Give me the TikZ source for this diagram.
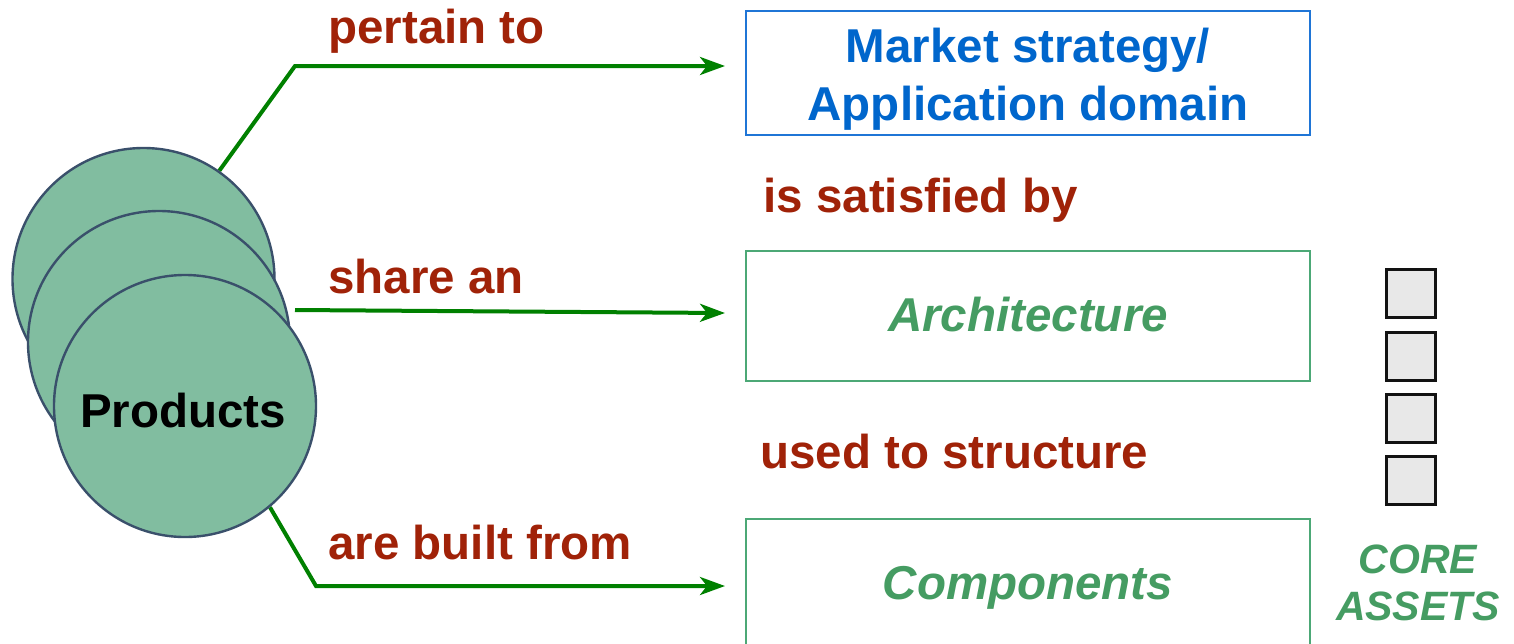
\documentclass[tikz,border=0pt]{standalone}
\usepackage{fontspec}
\setmainfont{Liberation Sans}
\usetikzlibrary{arrows.meta,backgrounds}
\definecolor{redtxt}{RGB}{160,34,8}
\definecolor{bluetxt}{RGB}{0,102,204}
\definecolor{bluebox}{RGB}{31,117,214}
\definecolor{greentxt}{RGB}{69,156,98}
\definecolor{greenbox}{RGB}{76,168,118}
\definecolor{linegreen}{RGB}{0,128,0}
\definecolor{circfill}{RGB}{129,189,160}
\definecolor{circdraw}{RGB}{58,80,107}
\definecolor{sqfill}{RGB}{232,232,232}
\tikzset{
  big/.style={font=\fontsize{23.75pt}{29pt}\selectfont\bfseries, inner sep=0pt},
  bigit/.style={font=\fontsize{23.75pt}{29pt}\selectfont\bfseries\itshape, inner sep=0pt},
  rel/.style={big, text=redtxt, anchor=base west},
  boxt/.style={big, anchor=base, text=bluetxt},
  boxit/.style={bigit, anchor=base, text=greentxt},
  mbox/.style={draw=bluebox, line width=1pt, minimum width=282pt, minimum height=62pt, inner sep=0pt},
  gbox/.style={draw=greenbox, line width=1pt, minimum width=282pt, minimum height=65pt, inner sep=0pt},
  prod/.style={circle, draw=circdraw, fill=circfill, line width=1.2pt, minimum size=131pt, inner sep=0pt},
  conn/.style={draw=linegreen, line width=2pt, -{Stealth[length=12.5pt,width=9pt,inset=3.5pt]}},
  asset/.style={draw=black!93, fill=sqfill, line width=1.5pt, minimum width=24.5pt, minimum height=24pt, inner sep=0pt},
  coret/.style={font=\fontsize{20.5pt}{24pt}\selectfont\bfseries\itshape, text=greentxt, inner sep=0pt, anchor=base}
}
\begin{document}
\begin{tikzpicture}[x=0.5pt,y=-0.5pt]
\useasboundingbox (0,0) rectangle (1514,643);
\clip (0,0) rectangle (1514,643);
% boxes
\node[mbox] (mkt) at (1028,73) {};
\node[boxt] (mkt1) at (1028,62) {Market strategy/};
\node[boxt] (mkt2) at (1028,120) {Application domain};
\node[gbox] (arch) at (1028,316) {};
\node[boxit] (archt) at (1028,331) {Architecture};
\node[gbox] (comp) at (1028,584) {};
\node[boxit] (compt) at (1028,599) {Components};
% relation labels
\node[rel] (l1) at (328,43) {pertain to};
\node[rel] (l2) at (328,293) {share an};
\node[rel] (l3) at (328,559) {are built from};
\node[rel] (l4) at (763,212) {is satisfied by};
\node[rel] (l5) at (760,468) {used to structure};
% product circles
\node[prod] (c1) at (143.5,279) {};
\node[prod] (c2) at (159,342) {};
\node[prod] (c3) at (185,406) {};
\node[big, anchor=base] (prodt) at (183,427) {Products};
% connectors (behind the circles)
\coordinate (b1) at (295,66);
\coordinate (b3) at (316,586);
\coordinate (s2) at (295,310);
\coordinate (e2) at (725,313);
\begin{scope}[on background layer]
\draw[conn, shorten >=10pt] (c1.55.7) -- (b1) -- (b1 -| mkt.west);
\draw[conn] (s2) -- (e2);
\draw[conn, shorten >=10pt] (c3.-50.6) -- (b3) -- (b3 -| comp.west);
\end{scope}
% core assets
\node[asset] (a1) at (1411,293.5) {};
\node[asset] (a2) at (1411,356) {};
\node[asset] (a3) at (1411,418.5) {};
\node[asset] (a4) at (1411,480.5) {};
\node[coret] (core1) at (1418,573) {CORE};
\node[coret] (core2) at (1418,620) {ASSETS};
\end{tikzpicture}
\end{document}
